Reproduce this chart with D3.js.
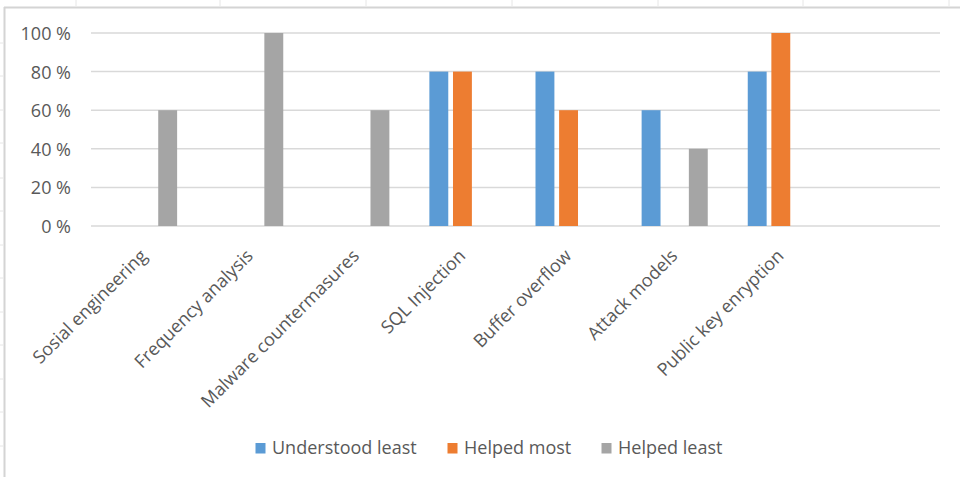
<!DOCTYPE html>
<html>
<head>
<meta charset="utf-8">
<script src="https://cdn.jsdelivr.net/npm/d3@7"></script>
<style>
html,body{margin:0;padding:0;background:#fff;}
svg{display:block;}
text{font-family:"Open Sans",sans-serif;}
</style>
</head>
<body>
<svg id="chart" width="960" height="477"></svg>
<script>
const categories = ["Sosial engineering","Frequency analysis","Malware countermasures","SQL Injection","Buffer overflow","Attack models","Public key enryption",""];
const seriesNames = ["Understood least","Helped most","Helped least"];
const understoodLeast = [0,0,0,80,80,60,80,0];
const helpedMost = [0,0,0,80,60,0,100,0];
const helpedLeast = [60,100,60,0,0,40,0,0];
const yTicks = [0,20,40,60,80,100];
const colors = ["#5B9BD5","#ED7D31","#A5A5A5"];
const seriesValues = [understoodLeast, helpedMost, helpedLeast];

(function(){
const svg = d3.select("#chart");
const W = 960, H = 477;

// Spreadsheet frame (column/row separators around the chart)
const frame = svg.append("g");
frame.append("line").attr("x1",4).attr("x2",W).attr("y1",7.5).attr("y2",7.5)
  .attr("stroke","#D4D4D4").attr("stroke-width",2);
frame.append("line").attr("x1",4.5).attr("x2",4.5).attr("y1",7).attr("y2",H)
  .attr("stroke","#D4D4D4").attr("stroke-width",2);
[76,220,366,512,658,803,949].forEach(xx=>{
  frame.append("line").attr("x1",xx).attr("x2",xx).attr("y1",0).attr("y2",6)
    .attr("stroke","#E6E6E6").attr("stroke-width",1);
});
[43,76,110,143,178,211,245,278,312,345,379,412,446].forEach(yy=>{
  frame.append("line").attr("x1",0).attr("x2",3).attr("y1",yy).attr("y2",yy)
    .attr("stroke","#E6E6E6").attr("stroke-width",1);
});

const pLeft = 91, pRight = 940, pTop = 33, pBottom = 226;
const x = d3.scaleBand().domain(d3.range(categories.length)).range([pLeft,pRight]).paddingInner(0).paddingOuter(0);
const inner = d3.scaleBand().domain(d3.range(seriesNames.length)).range([20, x.bandwidth()-20]).paddingInner(0.2);
const y = d3.scaleLinear().domain([0,100]).range([pBottom, pTop]);

// gridlines
svg.append("g").selectAll("line").data(yTicks).join("line")
  .attr("x1",pLeft).attr("x2",pRight)
  .attr("y1",d=>y(d)).attr("y2",d=>y(d))
  .attr("stroke","#D9D9D9").attr("stroke-width",1.5);

// y axis labels
const yAxis = d3.axisLeft(y).tickValues(yTicks).tickSize(0).tickPadding(0).tickFormat(d=>d+" %");
const yg = svg.append("g").attr("transform",`translate(71,0)`).call(yAxis);
yg.select(".domain").remove();
yg.selectAll("text").attr("fill","#595959").style("font-size","18px").attr("dy","0.36em");

// bars
seriesValues.forEach((vals,si)=>{
  svg.append("g").selectAll("rect").data(vals.map((v,i)=>({v,i}))).join("rect")
    .filter(d=>d.v>0)
    .attr("x",d=>x(d.i)+inner(si))
    .attr("width",inner.bandwidth())
    .attr("y",d=>y(d.v))
    .attr("height",d=>y(0)-y(d.v))
    .attr("fill",colors[si]);
});

// x labels
const xAxis = d3.axisBottom(x).tickSize(0).tickFormat(i=>categories[i]);
const xg = svg.append("g").attr("transform",`translate(0,${pBottom})`).call(xAxis);
xg.select(".domain").remove();
xg.selectAll("text")
  .attr("fill","#595959").style("font-size","18px")
  .attr("text-anchor","end")
  .attr("dy",0).attr("y",0)
  .attr("transform","translate(4,31) rotate(-45)");

// legend
const legendX = [255,447,601];
const lg = svg.append("g");
seriesNames.forEach((name,i)=>{
  const g = lg.append("g").attr("transform",`translate(${legendX[i]},448)`);
  g.append("rect").attr("x",0.5).attr("y",-5).attr("width",10).attr("height",10.5).attr("fill",colors[i]);
  g.append("text").attr("x",17).attr("y",0).attr("dy","0.36em")
    .attr("fill","#595959").style("font-size","18px").text(name);
});
})();
</script>
</body>
</html>
